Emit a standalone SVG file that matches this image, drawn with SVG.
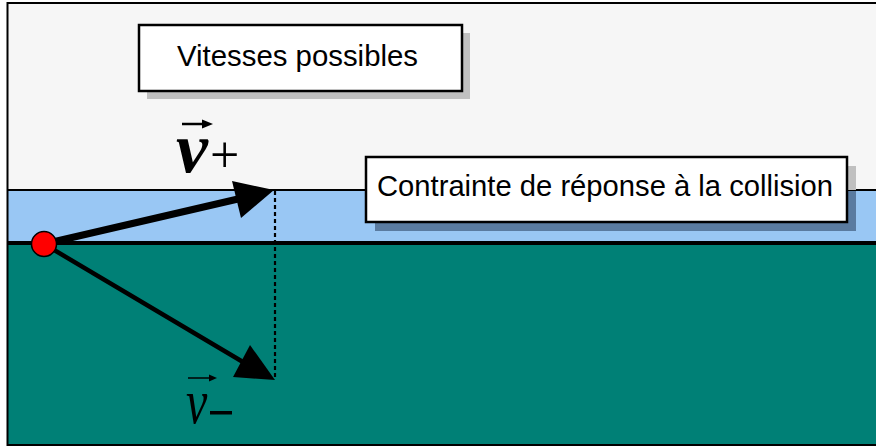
<svg xmlns="http://www.w3.org/2000/svg" width="876" height="447" viewBox="0 0 876 447">
<style>
.box{fill:#ffffff;stroke:#000000;stroke-width:2.5}
.shadow{fill:#c0c0c0}
.lbl{font-family:"Liberation Sans",Arial,sans-serif;font-size:29px;fill:#000000}
.vec{font-family:"Liberation Serif","Times New Roman",serif;font-style:italic;fill:#000000}
.sym{font-family:"Liberation Serif","Times New Roman",serif;fill:#000000}
</style>
<g id="background">
<rect x="0" y="0" width="876" height="447" fill="#ffffff"/>
<rect x="8" y="4" width="870" height="441" fill="#f6f6f6"/>
<rect x="8" y="190" width="870" height="53" fill="#99c7f4"/>
<rect x="8" y="243" width="870" height="202" fill="#008076"/>
<line x1="8" y1="190" x2="878" y2="190" stroke="#000" stroke-width="2"/>
<line x1="8" y1="243" x2="878" y2="243" stroke="#000" stroke-width="4"/>
<rect x="7.5" y="3" width="872" height="442" fill="none" stroke="#000" stroke-width="2"/>
</g>
<g id="node-vitesses">
<rect class="shadow" x="147" y="33" width="323" height="66"/>
<rect class="box" x="139" y="25" width="323" height="66"/>
<text class="lbl" x="177" y="66" textLength="241" lengthAdjust="spacingAndGlyphs">Vitesses possibles</text>
</g>
<g id="node-contrainte">
<rect class="shadow" x="375" y="166" width="481" height="24"/>
<rect x="375" y="191" width="481" height="40" fill="#5a7ba0"/>
<rect class="box" x="366" y="157" width="481" height="65"/>
<text class="lbl" x="377" y="196" font-size="30" textLength="456" lengthAdjust="spacingAndGlyphs">Contrainte de réponse à la collision</text>
</g>
<g id="connectors">
<line x1="275" y1="191" x2="275" y2="380" stroke="#000" stroke-width="2.2" stroke-dasharray="4,3"/>
<line x1="44" y1="244" x2="238" y2="199" stroke="#000" stroke-width="7"/>
<polygon points="274,190 232,181 241,218" fill="#000"/>
<line x1="44" y1="244" x2="243" y2="362" stroke="#000" stroke-width="4.5"/>
<polygon points="275,380 250,345 233,377" fill="#000"/>
</g>
<g id="node-origin">
<circle cx="44" cy="244" r="12.5" fill="#ff0000" stroke="#000" stroke-width="1.5"/>
</g>
<g id="label-vplus">
<text class="vec" x="176" y="172" font-size="72" font-weight="bold">v</text>
<line x1="182" y1="124" x2="204" y2="124" stroke="#000" stroke-width="2.5"/>
<polygon points="213,124 202,119.5 202,128.5" fill="#000"/>
<text class="sym" x="210" y="172" font-size="52">+</text>
</g>
<g id="label-vminus">
<text class="vec" x="0" y="0" font-size="64" transform="translate(186,423) scale(0.75,1)">v</text>
<line x1="188" y1="378" x2="211" y2="378" stroke="#000" stroke-width="1.5"/>
<polygon points="217,378 209,374.5 209,381.5" fill="#000"/>
<rect x="210" y="411" width="22" height="3.5" fill="#000"/>
</g>
</svg>
